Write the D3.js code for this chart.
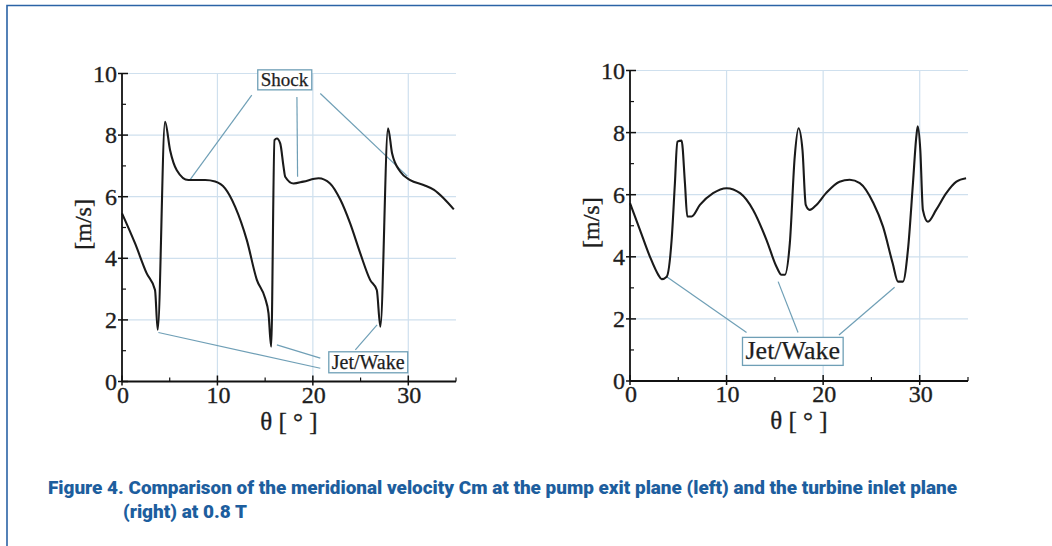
<!DOCTYPE html>
<html>
<head>
<meta charset="utf-8">
<script src="https://cdn.jsdelivr.net/npm/d3@7"></script>
<style>
  body { margin: 0; background: #fff; }
  svg { display: block; }
</style>
</head>
<body>
<div id="container"></div>
<script>
var WIDTH = 1052,
	HEIGHT = 546;

// left panel: pump exit plane
var leftTheta = [0, 1.36, 2.59, 3.46, 3.74, 4.51, 5.04, 5.74, 6.96, 8.71, 9.76, 10.8, 11.86, 13.08, 14.13, 15.0, 15.35, 15.63,
	15.98, 16.23, 16.58, 16.93, 17.1, 17.98, 19.0, 20.6, 21.8, 22.9, 23.9, 24.97, 26.0, 26.7, 27.07,
	27.88, 28.3, 29.17, 30.2, 31.6, 32.7, 33.7, 34.77];
var leftCm = [5.46, 4.49, 3.51, 2.97, 1.68, 8.43, 7.51, 6.86, 6.54, 6.54, 6.49, 6.27, 5.67, 4.59, 3.30, 2.70, 2.22, 1.13,
	7.84, 7.89, 7.73, 6.97, 6.65, 6.43, 6.49, 6.6, 6.43, 5.89, 5.14, 4.16, 3.30, 2.97, 1.78,
	8.22, 7.41, 6.81, 6.54, 6.38, 6.22, 5.95, 5.59];

// right panel: turbine inlet plane
var rightTheta = [0, 1.03, 2.07, 2.93, 3.28, 3.8, 4.31, 4.65, 4.9, 5.34, 5.69, 5.93, 6.38, 7.24, 8.6, 10.0, 11.4, 12.75,
	14.14, 15.17, 15.69, 16.03, 16.55, 17.06, 17.45, 17.86, 18.2, 18.6, 19.3, 20.3, 21.7, 22.75, 23.8, 25.2,
	26.2, 27.2, 27.75, 28.26, 28.78, 29.3, 29.65, 29.8, 30.06, 30.33, 30.85, 31.7, 32.75, 33.8, 34.8];
var rightCm = [5.73, 4.87, 4.0, 3.42, 3.28, 3.36, 4.54, 6.37, 7.71, 7.74, 6.37, 5.3, 5.3, 5.67, 6.05, 6.21, 6.05, 5.51,
	4.54, 3.68, 3.42, 3.42, 4.44, 7.23, 8.14, 7.44, 5.67, 5.51, 5.67, 6.05, 6.42, 6.48, 6.37, 5.73,
	4.97, 3.79, 3.2, 3.2, 4.22, 6.37, 7.87, 8.2, 7.44, 5.51, 5.13, 5.51, 6.05, 6.42, 6.53];

var xMajor = [0, 10, 20, 30];
var xMinor = [5, 15, 25, 35];
var yMajor = [0, 2, 4, 6, 8, 10];
var yMinor = [1, 3, 5, 7, 9];

// annotations, in data units: box centre and [from, to] leader lines
var leftShock = { label: 'Shock', at: [17.03, 9.81],
	lines: [[[13.6, 9.3], [7.1, 6.54]], [[18.33, 9.24], [18.4, 6.65]], [[20.78, 9.35], [29.9, 6.67]]] };
var leftJet = { label: 'Jet/Wake', at: [25.8, 0.64],
	lines: [[[3.81, 1.59], [20.78, 0.43]], [[16.23, 1.19], [20.78, 0.76]], [[26.73, 1.84], [24.45, 1.03]]] };
var rightJet = { label: 'Jet/Wake', at: [16.86, 0.97],
	lines: [[[3.8, 3.36], [12.07, 1.56]], [[15.34, 3.2], [17.4, 1.56]], [[27.4, 3.02], [21.64, 1.48]]] };

var caption1 = 'Figure 4. Comparison of the meridional velocity Cm at the pump exit plane (left) and the turbine inlet plane';
var caption2 = '(right) at 0.8 T';

var SERIF = '"Liberation Serif", "Times New Roman", serif';
var GRID = '#cfe0ee';
var NOTE = '#6f9fb6';

function serifText(sel, size) {
	return sel.style('font-family', SERIF).style('font-size', size + 'px')
		.attr('fill', '#1e1e1e').attr('stroke', '#1e1e1e').attr('stroke-width', 0.35);
}

function drawPanel(svg, cfg) {
	var x = d3.scaleLinear().domain([0, 35]).range([cfg.left, cfg.right]);
	var y = d3.scaleLinear().domain([0, 10]).range([cfg.bottom, cfg.top]);
	var g = svg.append('g');

	// grid
	g.selectAll('.vgrid').data(xMajor.slice(1)).enter().append('line')
		.attr('x1', function(d){return x(d)}).attr('x2', function(d){return x(d)})
		.attr('y1', y(0)).attr('y2', y(10))
		.attr('stroke', GRID).attr('stroke-width', 1.2);
	g.selectAll('.hgrid').data(yMajor.slice(1)).enter().append('line')
		.attr('x1', x(0)).attr('x2', x(35))
		.attr('y1', function(d){return y(d)}).attr('y2', function(d){return y(d)})
		.attr('stroke', GRID).attr('stroke-width', 1.2);

	// annotation leaders
	cfg.notes.forEach(function(n) {
		n.lines.forEach(function(l) {
			g.append('line')
				.attr('x1', x(l[0][0])).attr('y1', y(l[0][1]))
				.attr('x2', x(l[1][0])).attr('y2', y(l[1][1]))
				.attr('stroke', NOTE).attr('stroke-width', 1.2);
		});
	});

	// curve
	var pts = cfg.theta.map(function(t, i){return [t, cfg.cm[i]]});
	g.append('path')
		.attr('d', d3.line().x(function(d){return x(d[0])}).y(function(d){return y(d[1])}).curve(d3.curveMonotoneX)(pts))
		.attr('fill', 'none').attr('stroke', '#1a1a1a').attr('stroke-width', 2.1)
		.attr('stroke-linejoin', 'round');

	// axes
	g.append('line').attr('x1', x(0)).attr('x2', x(0)).attr('y1', y(0)).attr('y2', y(10))
		.attr('stroke', '#111').attr('stroke-width', 1.8);
	g.append('line').attr('x1', x(0)).attr('x2', x(35)).attr('y1', y(0)).attr('y2', y(0))
		.attr('stroke', '#111').attr('stroke-width', 1.8);
	g.selectAll('.ymaj').data(yMajor).enter().append('line')
		.attr('x1', x(0) - 4).attr('x2', x(0) + 6)
		.attr('y1', function(d){return y(d)}).attr('y2', function(d){return y(d)})
		.attr('stroke', '#111').attr('stroke-width', 1.5);
	g.selectAll('.ymin').data(yMinor).enter().append('line')
		.attr('x1', x(0)).attr('x2', x(0) + 4)
		.attr('y1', function(d){return y(d)}).attr('y2', function(d){return y(d)})
		.attr('stroke', '#111').attr('stroke-width', 1.2);
	g.selectAll('.xmaj').data(xMajor).enter().append('line')
		.attr('x1', function(d){return x(d)}).attr('x2', function(d){return x(d)})
		.attr('y1', y(0) + 4).attr('y2', y(0) - 6)
		.attr('stroke', '#111').attr('stroke-width', 1.5);
	g.selectAll('.xmin').data(xMinor).enter().append('line')
		.attr('x1', function(d){return x(d)}).attr('x2', function(d){return x(d)})
		.attr('y1', y(0)).attr('y2', y(0) - 4)
		.attr('stroke', '#111').attr('stroke-width', 1.2);

	// tick labels
	serifText(g.selectAll('.ylab').data(yMajor).enter().append('text'), 24)
		.attr('x', x(0) - 5).attr('y', function(d){return y(d) + 8})
		.attr('text-anchor', 'end')
		.text(function(d){return d});
	serifText(g.selectAll('.xlab').data(xMajor).enter().append('text'), 24)
		.attr('x', function(d){return x(d) + 1}).attr('y', y(0) + 21)
		.attr('text-anchor', 'middle')
		.text(function(d){return d});

	// axis titles
	serifText(g.append('text'), 24)
		.attr('transform', 'translate(' + (x(0) - 31) + ',' + y(5.1) + ') rotate(-90)')
		.attr('text-anchor', 'middle')
		.text('[m/s]');
	serifText(g.append('text'), 25)
		.attr('x', x(17.5)).attr('y', y(0) + 48)
		.attr('text-anchor', 'middle')
		.text('θ [ ° ]');

	// annotation boxes
	cfg.notes.forEach(function(n) {
		var t = serifText(g.append('text'), n.size)
			.attr('x', x(n.at[0])).attr('y', y(n.at[1]))
			.attr('text-anchor', 'middle').attr('dominant-baseline', 'central')
			.attr('stroke-width', 0.25)
			.text(n.label);
		var b = t.node().getBBox();
		g.insert('rect', function(){return t.node()})
			.attr('x', b.x - 3).attr('y', b.y + 1).attr('width', b.width + 6).attr('height', b.height - 1)
			.attr('fill', '#fff').attr('stroke', NOTE).attr('stroke-width', 1.3);
	});
}

function drawChart() {
	var svg = d3.select('#container').append('svg')
		.attr('width', WIDTH).attr('height', HEIGHT);

	// frame
	svg.append('path')
		.attr('d', 'M7,' + HEIGHT + ' L7,5.5 L' + WIDTH + ',5.5')
		.attr('fill', 'none').attr('stroke', '#2b63a6').attr('stroke-width', 1.6);

	leftShock.size = 19; leftJet.size = 20; rightJet.size = 26;
	drawPanel(svg, { left: 122, right: 456, top: 73.5, bottom: 381.5,
		theta: leftTheta, cm: leftCm, notes: [leftShock, leftJet] });
	drawPanel(svg, { left: 630, right: 968, top: 70.5, bottom: 381,
		theta: rightTheta, cm: rightCm, notes: [rightJet] });

	var cap = svg.append('g')
		.style('font-family', 'Roboto, "Liberation Sans", sans-serif')
		.style('font-weight', 900).style('font-size', '18px').attr('fill', '#1d5e9e');
	cap.append('text').attr('x', 48).attr('y', 494)
		.attr('textLength', 909).attr('lengthAdjust', 'spacingAndGlyphs').text(caption1);
	cap.append('text').attr('x', 123).attr('y', 518)
		.attr('textLength', 124).attr('lengthAdjust', 'spacingAndGlyphs').text(caption2);
}

window.onload = function(){
	drawChart();
}
</script>
</body>
</html>
